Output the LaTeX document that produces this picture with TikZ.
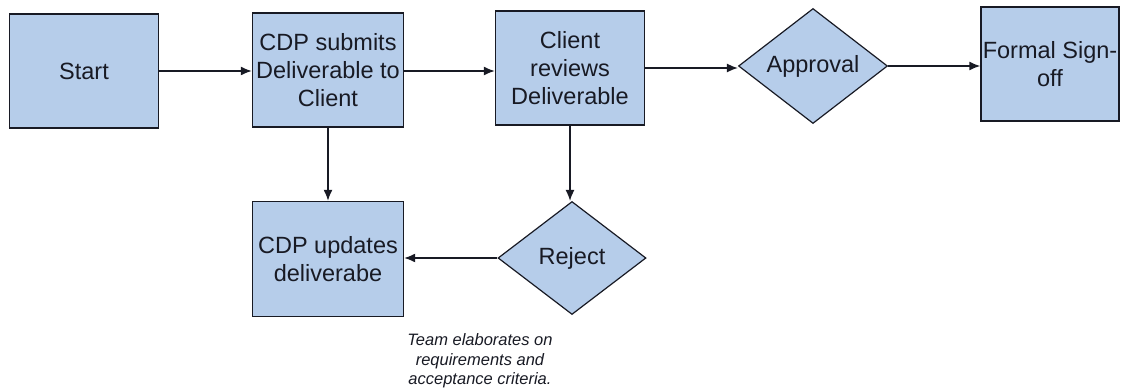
\documentclass[tikz,border=0pt]{standalone}
\usepackage{fontspec}
\setmainfont{Liberation Sans}
\usetikzlibrary{shapes.geometric,arrows.meta}
\definecolor{boxfill}{RGB}{182,205,234}
\definecolor{ink}{RGB}{24,26,36}
\begin{document}
\begin{tikzpicture}[x=1pt,y=-1pt,
  every node/.style={text=ink},
  boxnode/.style={draw=ink,fill=boxfill,line width=1.4pt,rectangle,inner sep=0pt,
    align=center,font=\fontsize{23.5}{28}\selectfont},
  decision/.style={draw=ink,fill=boxfill,line width=1.2pt,diamond,inner sep=0pt,
    font=\fontsize{23.5}{28}\selectfont},
  conn/.style={draw=ink,line width=1.4pt,-{Latex[length=11pt,width=9pt]}},
  note/.style={align=center,font=\fontsize{16.5}{19.5}\selectfont\itshape}]
\useasboundingbox (0,0) rectangle (1121,390);
\node[boxnode,minimum width=149pt,minimum height=114pt] (start) at (84,71) {Start};
\node[boxnode,minimum width=151pt,minimum height=114pt] (submit) at (328,70) {CDP submits\\Deliverable to\\Client};
\node[boxnode,minimum width=149pt,minimum height=114pt] (review) at (570,68) {Client\\reviews\\Deliverable};
\node[decision,minimum width=149pt,minimum height=115pt] (approval) at (813,66) {Approval};
\node[boxnode,minimum width=138pt,minimum height=114pt] (signoff) at (1050,64) {Formal Sign-\\off};
\node[boxnode,minimum width=151pt,minimum height=115pt] (update) at (328,259) {CDP updates\\deliverabe};
\node[decision,minimum width=148pt,minimum height=113pt] (reject) at (572,258) {Reject};
\node[note] (teamnote) at (480,361) {Team elaborates on\\requirements and\\acceptance criteria.};
\draw[conn] (start.east) -- (start.east -| submit.west);
\draw[conn] ([yshift=-1pt]submit.east) -- ([yshift=-1pt]submit.east -| review.west);
\draw[conn] (review.east) -- (review.east -| approval.west);
\draw[conn] (approval.east) -- (approval.east -| signoff.west);
\draw[conn] (submit.south) -- (update.north);
\draw[conn] (review.south) -- (review.south |- reject.north);
\draw[conn] (reject.west) -- (reject.west -| update.east);
\end{tikzpicture}
\end{document}
